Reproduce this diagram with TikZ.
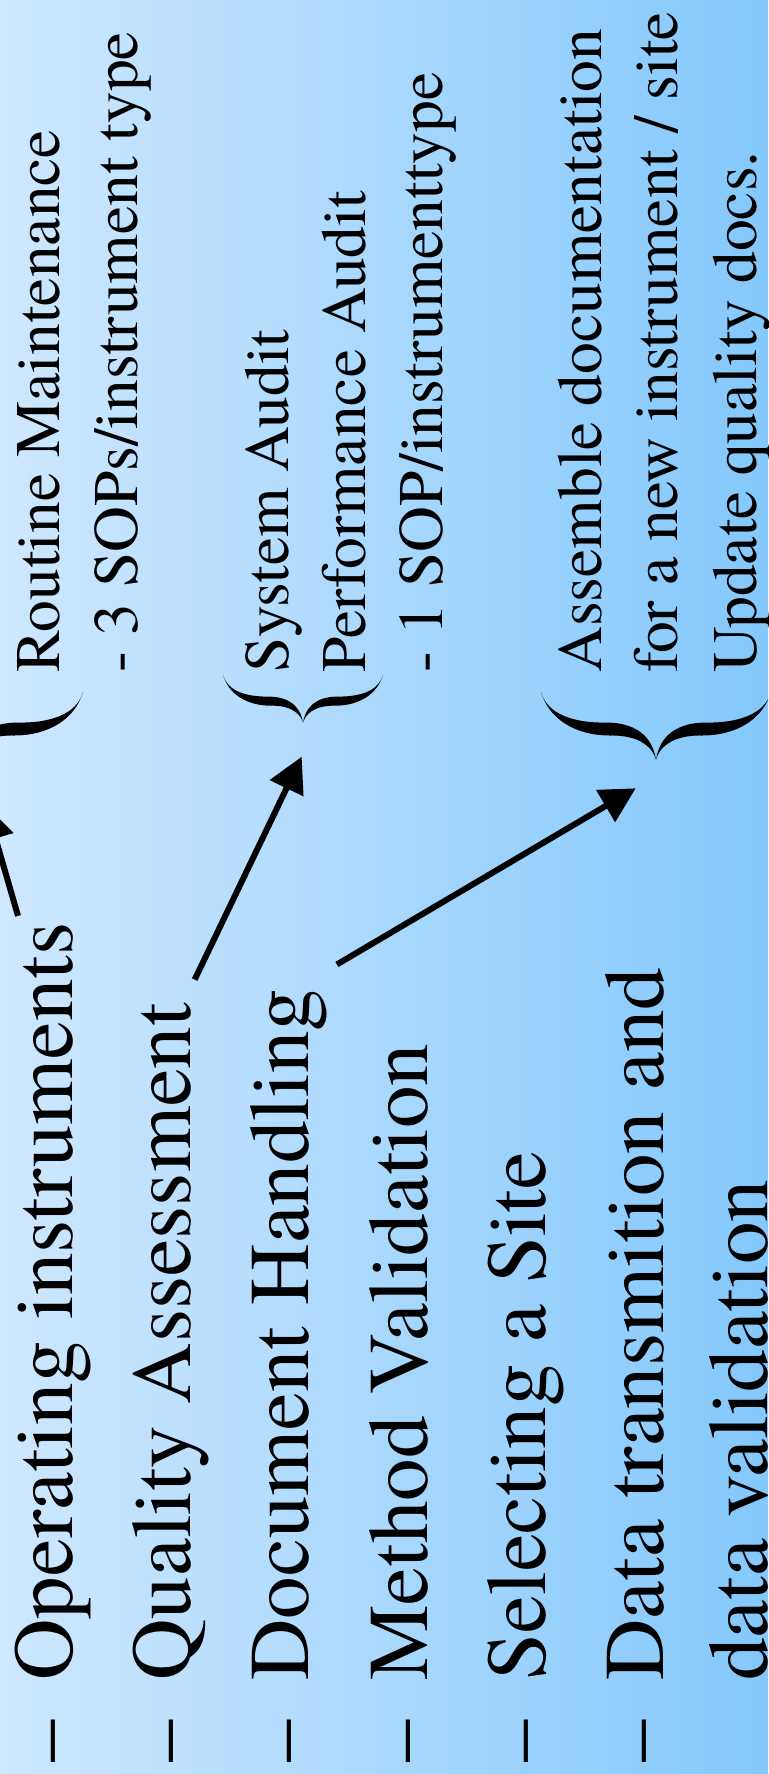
\documentclass[tikz,border=0pt]{standalone}
\usepackage{fontspec}
\setmainfont{texgyretermes}[Extension=.otf, UprightFont=*-regular, BoldFont=*-bold]
\usetikzlibrary{arrows.meta, calc}

\definecolor{skylight}{RGB}{206,232,255}
\definecolor{skydeep}{RGB}{132,200,252}

\tikzset{
  item/.style={anchor=base west, inner sep=0pt, font=\rmfamily\fontsize{42.5}{51}\selectfont},
  note/.style={anchor=base west, inner sep=0pt, font=\rmfamily\fontsize{31.75}{38}\selectfont},
  pointer/.style={line width=3pt, -{Triangle[length=17.5pt, width=18pt]}},
}

% filled curly brace, tip at #1, half height #2, width #3
\newcommand{\bracefill}[3]{%
  \fill[shift={#1}, xscale=#3, yscale=#2]
    (0,0) .. controls (0.15,0.02) and (0.37,0.12) .. (0.36,0.4)
    .. controls (0.36,0.7) and (0.6,0.93) .. (1,1)
    .. controls (0.75,0.96) and (0.55,0.8) .. (0.55,0.45)
    .. controls (0.56,0.12) and (0.25,0.02) .. (0,0)
    .. controls (0.25,-0.02) and (0.56,-0.12) .. (0.55,-0.45)
    .. controls (0.55,-0.8) and (0.75,-0.96) .. (1,-1)
    .. controls (0.6,-0.93) and (0.36,-0.7) .. (0.36,-0.4)
    .. controls (0.37,-0.12) and (0.15,-0.02) .. (0,0) -- cycle;}

\begin{document}
\begin{tikzpicture}[x=0.5pt, y=0.5pt]
  % backdrop
  \useasboundingbox (0,0) rectangle (768,1774);
  \clip (0,0) rectangle (768,1774);
  \shade[left color=skylight, right color=skydeep] (0,0) rectangle (768,1774);

  \begin{scope}[rotate=90, transform shape]
    % the task list
    \foreach \txt [count=\i] in {Operating instruments, Quality Assessment,
        Document Handling, Method Validation, Selecting a Site, Data transmition and}{
      \node[item] (dash\i) at (11, {-72.5-118.2*(\i-1)}) {\textendash};
      \node[item] (task\i) at (93, {-72.5-118.2*(\i-1)}) {\txt};
    }
    \node[item] (task7) at (93, -767) {data validation};

    % what the tasks involve
    \node[note] (g1a) at (1101, -60)  {Routine Maintenance};
    \node[note] (g1b) at (1101, -137) {- 3 SOPs/instrument type};
    \node[note] (g2a) at (1101, -288) {System Audit};
    \node[note] (g2b) at (1101, -365) {Performance Audit};
    \node[note] (g2c) at (1101, -442) {- 1 SOP/instrumenttype};
    \node[note] (g3a) at (1101, -601) {Assemble documentation};
    \node[note] (g3b) at (1101, -677) {for a new instrument / site};
    \node[note] (g3c) at (1101, -756) {Update quality docs.};

    % braces
    \bracefill{(1014,32)}{115}{68}
    \bracefill{(1051,-303)}{80}{48}
    \bracefill{(1014,-656)}{115}{68}

    \coordinate (aim1) at (969.3, 14.2);
    \coordinate (aim2) at (1017.3, -301.7);
    \coordinate (aim3) at (985.7, -635.7);

    \draw[pointer] ($(task1.base east)+(6,54.5)$) -- (aim1);
    \draw[pointer] ($(task2.base east)+(23,-4)$) -- (aim2);
    \draw[pointer] ($(task3.base east)+(24,-28)$) -- (aim3);
  \end{scope}
\end{tikzpicture}
\end{document}
